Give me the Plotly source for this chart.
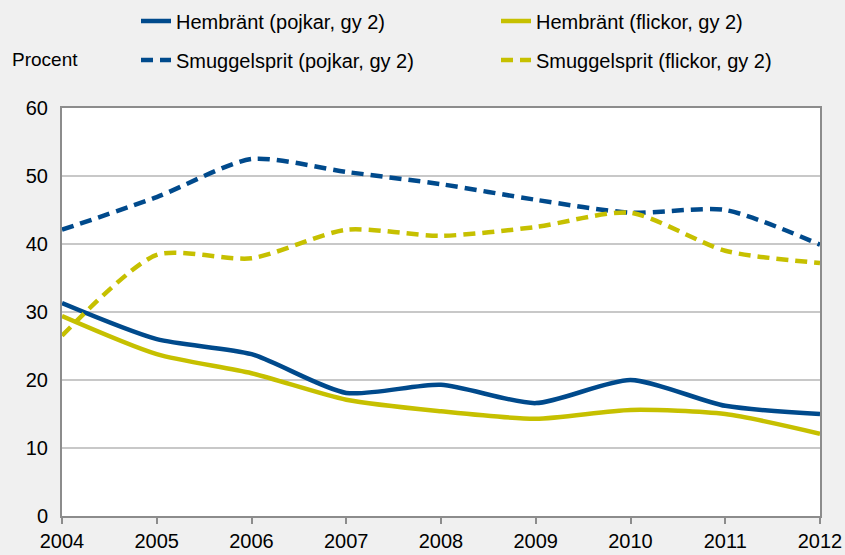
import plotly.graph_objects as go

years = [2004, 2005, 2006, 2007, 2008, 2009, 2010, 2011, 2012]
hembrant_pojkar = [31.3, 26.0, 23.8, 18.1, 19.3, 16.6, 20.0, 16.2, 15.0]
hembrant_flickor = [29.4, 23.8, 21.0, 17.1, 15.4, 14.3, 15.6, 15.0, 12.1]
smuggel_pojkar = [42.1, 46.9, 52.5, 50.6, 48.8, 46.5, 44.6, 45.0, 39.9]
smuggel_flickor = [26.5, 38.4, 37.9, 42.1, 41.2, 42.5, 44.6, 39.0, 37.2]
y_ticks = [0, 10, 20, 30, 40, 50, 60]

BLUE = "#004a8c"
YELLOW = "#c6c000"
FONT = "Liberation Sans, Arial, sans-serif"
W, H = 845, 555
ML, MR, MT, MB = 62, 25, 108, 39
PW, PH = W - ML - MR, H - MT - MB

fig = go.Figure()
series = [
    ("Hembränt (pojkar, gy 2)", hembrant_pojkar, BLUE, "solid", "legend2", 176, 21),
    ("Hembränt (flickor, gy 2)", hembrant_flickor, YELLOW, "solid", "legend3", 536, 21),
    ("Smuggelsprit (pojkar, gy 2)", smuggel_pojkar, BLUE, "12px,7px", "legend4", 176, 60),
    ("Smuggelsprit (flickor, gy 2)", smuggel_flickor, YELLOW, "12px,7px", "legend5", 536, 60),
]
legends = {}
for name, vals, col, dash, lg, tx, ty in series:
    fig.add_trace(go.Scatter(
        x=years, y=vals, name=name, mode="lines",
        line=dict(color=col, width=4.5, dash=dash, shape="spline", smoothing=0.7),
        legend=lg, showlegend=True,
    ))
    legends[lg] = dict(
        xref="container", yref="container",
        x=(tx - 40) / W, y=1 - ty / H,
        xanchor="left", yanchor="middle",
        orientation="h",
        font=dict(family=FONT, size=20, color="#000000"),
        bgcolor="rgba(0,0,0,0)", borderwidth=0,
    )

fig.update_layout(
    width=W, height=H, showlegend=True,
    paper_bgcolor="#f0f0f0", plot_bgcolor="#ffffff",
    margin=dict(l=ML, r=MR, t=MT, b=MB, autoexpand=False),
    font=dict(family=FONT, size=20, color="#000000"),
    xaxis=dict(
        range=[2004, 2012], tickvals=years, ticktext=[str(y) for y in years],
        showgrid=False, zeroline=False,
        showline=True, linecolor="#8c8c8c", linewidth=2, mirror=True,
        ticks="outside", ticklen=6, tickcolor="#8c8c8c", tickwidth=2,
        tickfont=dict(family=FONT, size=20, color="#000000"),
    ),
    yaxis=dict(
        range=[0, 60], tickvals=y_ticks,
        showgrid=True, gridcolor="#c8c8c8", gridwidth=1.5, zeroline=False,
        showline=True, linecolor="#8c8c8c", linewidth=2, mirror=True,
        ticks="outside", ticklen=8, tickcolor="rgba(0,0,0,0)",
        tickfont=dict(family=FONT, size=20, color="#000000"),
    ),
    annotations=[dict(
        text="Procent", xref="paper", yref="paper",
        x=(10 - ML) / PW, y=1 + (MT - 60) / PH,
        xanchor="left", yanchor="middle", showarrow=False,
        font=dict(family=FONT, size=19, color="#000000"),
    )],
    **legends,
)

fig.write_html("out.html", config={"displayModeBar": False},
               post_script="document.body.style.margin='0';")
